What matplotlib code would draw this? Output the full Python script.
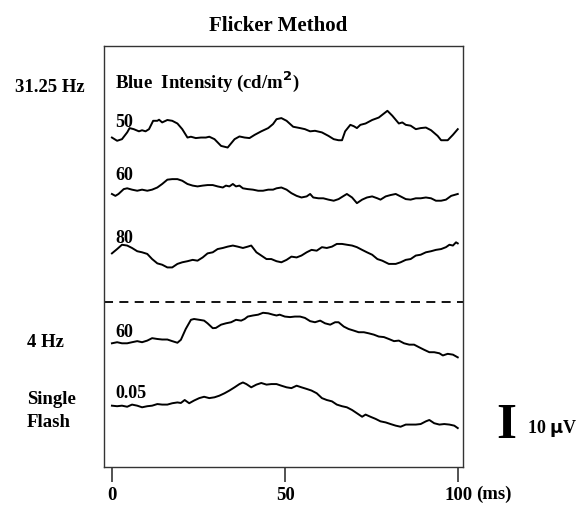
import numpy as np
import matplotlib
matplotlib.use('Agg')
import matplotlib.pyplot as plt

plt.rcParams['font.family'] = ['Liberation Serif', 'DejaVu Serif']
plt.rcParams['font.weight'] = 'bold'

# traces: time (ms) and amplitude (uV)
t_50 = [0, 1.5, 2.9, 4.4, 5.1, 6.3, 7.8, 8.7, 9.7, 10.7, 11.9, 13.1, 13.6, 14.5, 16.0, 17.4, 18.9,
        20.3, 21.8, 22.8, 24.2, 25.7, 27.1, 28.1, 29.6, 31.5, 33.4, 35.4, 36.8, 38.3, 39.7, 41.2,
        43.1, 45.1, 46.5, 47.5, 48.9, 50.4, 52.3, 54.3, 55.7, 57.2, 58.6, 60.6, 62.5, 64.0, 65.4,
        66.4, 67.3, 68.8, 69.8, 70.7, 71.7, 73.2, 75.1, 77.0, 78.5, 79.5, 80.9, 82.8, 83.8, 84.8,
        86.2, 87.7, 89.1, 90.6, 92.1, 94.0, 95.0, 96.9, 98.4, 99.8]
v_50 = [-2.5, -3.7, -3.1, -0.6, 1.0, 0.6, -0.2, 0.2, -0.2, 0.6, 3.7, 3.7, 4.1, 3.1, 4.0, 3.7, 2.7,
        0.6, -2.5, -2.2, -2.7, -2.5, -2.5, -2.2, -3.1, -5.6, -6.2, -3.1, -2.1, -2.5, -2.7, -1.5,
        -0.2, 1.0, 2.5, 4.3, 4.7, 3.7, 1.5, 1.0, 0.6, -0.2, 0.0, -0.6, -1.9, -3.1, -3.5,
        -3.5, -0.2, 2.2, 1.7, 1.0, 2.2, 2.7, 4.0, 4.9, 6.4, 7.4, 5.6, 2.7, 3.1, 2.2,
        1.9, 0.6, 1.0, 1.2, 0.2, -1.9, -3.5, -3.5, -1.5, 0.6]

t_60 = [0, 1.0, 1.9, 3.4, 4.4, 5.8, 7.3, 8.7, 10.2, 11.6, 13.1, 14.5, 16.0, 17.4, 18.9, 20.3, 21.8,
        23.3, 24.7, 26.2, 27.6, 29.1, 30.5, 32.0, 32.9, 33.9, 34.9, 35.8, 36.8, 37.8, 39.2, 40.7,
        42.2, 43.6, 45.1, 46.5, 47.5, 48.9, 50.4, 51.8, 53.3, 54.7, 56.2, 57.2, 58.1, 59.6, 61.0,
        62.5, 64.0, 65.4, 66.9, 67.8, 69.3, 70.7, 72.2, 73.6, 75.1, 76.6, 77.5, 79.0, 80.4, 81.9,
        83.3, 84.8, 86.2, 87.7, 89.1, 90.6, 92.1, 93.5, 95.0, 96.4, 97.9, 99.8]
v_60 = [-1.2, -1.9, -1.2, 0.6, 0.9, 0.4, 0, 0.4, 0, 0.4, 1.2, 2.5, 4.1, 4.3, 4.3, 3.7, 2.5,
        1.9, 1.6, 1.9, 2.1, 2.1, 1.6, 1.2, 1.9, 1.6, 2.5, 1.6, 1.9, 0.9, 0.6, 0.4,
        0, 0, 0.4, 0.4, 0.9, 1.2, 0.4, -0.9, -1.9, -2.5, -2.1, -1.2, -2.5, -2.8, -2.8,
        -3.3, -3.7, -3.1, -1.9, -1.2, -2.5, -4.6, -3.3, -2.5, -2.1, -2.8, -3.3, -2.1, -1.6, -1.2,
        -2.1, -3.1, -3.3, -2.8, -2.8, -2.5, -2.8, -3.7, -3.7, -3.3, -1.9, -1.2]

t_80 = [0, 1.5, 2.9, 4.4, 5.8, 7.3, 8.7, 10.2, 11.6, 13.1, 14.5, 16.0, 17.4, 18.9, 20.3, 21.8, 23.3,
        24.7, 26.2, 27.6, 29.1, 30.5, 32.0, 33.4, 34.9, 36.3, 37.8, 39.2, 40.2, 41.7, 43.1, 44.6,
        46.0, 47.5, 48.9, 50.4, 51.8, 53.3, 54.7, 56.2, 57.6, 59.1, 60.6, 62.0, 63.5, 64.9, 66.4,
        67.8, 69.3, 70.7, 72.2, 73.6, 75.1, 76.6, 78.0, 79.9, 81.9, 83.3, 84.8, 86.2, 87.7, 89.1,
        90.6, 92.1, 93.5, 95.0, 96.4, 97.4, 98.4, 99.3, 99.8]
v_80 = [-0.4, 1.2, 2.8, 2.5, 1.6, 0.4, 0, -0.6, -2.5, -4.1, -4.6, -5.6, -5.6, -4.3, -3.7, -3.3, -2.8,
        -3.1, -1.9, -0.4, 0, 1.2, 1.6, 2.1, 2.5, 2.1, 1.6, 2.1, 2.5, 0, -1.2, -2.5,
        -2.5, -3.3, -3.7, -2.8, -1.6, -1.9, -1.2, 0, 0.9, 0.6, 1.9, 1.6, 2.1, 3.1, 3.1,
        2.8, 2.5, 1.9, 0.9, 0, -0.9, -2.5, -3.1, -4.3, -4.3, -3.7, -2.8, -2.5, -1.2, -0.9,
        0, 0.4, 0.9, 1.2, 1.9, 2.8, 2.5, 3.7, 3.3]

t_4hz = [0, 1.5, 2.9, 4.4, 5.8, 7.3, 8.7, 10.2, 11.6, 13.1, 14.5, 16.0, 17.4, 18.9, 19.9, 21.3, 22.8,
         23.7, 25.2, 26.6, 27.6, 29.1, 30.0, 31.5, 32.9, 34.4, 35.8, 37.3, 38.3, 39.2, 40.7, 42.2,
         43.6, 45.1, 46.5, 47.5, 48.4, 49.9, 51.4, 52.8, 54.3, 55.7, 57.2, 58.6, 60.1, 61.5, 63.0,
         64.4, 65.4, 66.9, 68.3, 69.8, 71.2, 72.7, 74.1, 75.6, 77.0, 78.5, 79.9, 81.4, 82.8, 84.3,
         85.8, 87.2, 88.7, 90.1, 91.6, 93.0, 94.5, 95.5, 96.9, 98.4, 99.8]
v_4hz = [-0.4, 0, -0.4, -0.4, 0, 0.4, 0, 0.6, 1.5, 1.2, 1.0, 1.0, 0.4, -0.2, 0.9, 4.9, 8.3,
         8.6, 8.3, 8.0, 7.0, 5.2, 5.3, 6.5, 7.0, 7.4, 8.3, 8.0, 8.6, 9.5, 9.9, 10.2,
         10.9, 10.7, 10.2, 9.9, 10.2, 9.5, 9.3, 9.5, 9.5, 9.0, 7.8, 7.4, 8.0, 7.0, 6.5,
         7.4, 7.4, 5.8, 4.9, 4.3, 3.7, 3.7, 3.3, 2.8, 2.1, 1.9, 1.2, 0.4, 0.6, -0.4,
         -0.9, -0.9, -1.9, -2.8, -3.7, -3.7, -4.1, -4.9, -4.3, -4.6, -5.6]

t_sf = [0, 1.5, 2.9, 4.4, 5.8, 7.3, 8.7, 10.2, 11.6, 13.1, 14.5, 16.0, 17.4, 18.9, 19.9, 21.0, 22.3,
        23.7, 25.2, 26.6, 28.1, 29.6, 31.0, 32.5, 33.9, 35.4, 36.8, 37.8, 38.8, 40.2, 41.7, 43.1,
        44.6, 46.0, 47.5, 48.9, 50.4, 51.8, 53.3, 54.7, 56.2, 57.6, 59.1, 60.6, 62.0, 63.5, 64.9,
        66.4, 67.8, 69.3, 70.7, 72.2, 73.2, 74.6, 76.1, 77.5, 79.0, 80.4, 81.9, 83.3, 84.8, 86.2,
        87.7, 89.1, 90.6, 91.6, 93.0, 94.5, 95.9, 97.4, 98.8, 99.8]
v_sf = [0, -0.2, 0, -0.4, 0.4, 0, -0.6, -0.2, 0, 0.6, 0.4, 0.4, 0.9, 1.2, 1.0, 2.1, 0.9,
        1.9, 2.8, 3.3, 2.8, 3.1, 3.7, 4.6, 5.6, 6.8, 8.0, 8.6, 8.0, 6.8, 7.8, 8.4,
        7.8, 8.0, 8.0, 7.4, 6.8, 6.5, 7.4, 6.8, 6.2, 5.6, 4.6, 2.8, 2.1, 1.6, 0.4,
        -0.2, -0.6, -1.6, -2.8, -4.1, -3.3, -4.1, -4.9, -5.8, -6.2, -6.8, -7.4, -7.8, -7.0, -7.0,
        -7.0, -6.8, -5.8, -5.3, -6.5, -7.0, -6.8, -7.0, -7.4, -8.3]

traces = [(t_50, v_50), (t_60, v_60), (t_80, v_80), (t_4hz, v_4hz), (t_sf, v_sf)]
trace_labels = ['50', '60', '80', '60', '0.05']
offsets = [124.4, 102.2, 79.4, 46.1, 22.6]     # uV, vertical stacking
label_dy = [1.8, 4.4, 3.8, 2.3, 3.2]
divider = 61.0

W, H = 579, 506
fig = plt.figure(figsize=(W / 100, H / 100), dpi=100)
ax = fig.add_axes([104.3 / W, 1 - 467.7 / H, 359 / W, 420.7 / H])

for (t, v), off in zip(traces, offsets):
    ax.plot(t, np.array(v) + off, color='black', lw=1.4)

for lab, off, dy in zip(trace_labels, offsets, label_dy):
    ax.text(0.9, off + dy, lab, fontsize=13, fontweight='bold', va='baseline', ha='left')

ax.axhline(divider, color='black', lw=1.3, ls=(0, (5, 3.5)))
ax.text(0.9, 140.5, 'Blue  Intensity (cd/m$^\\mathbf{2}$)', fontsize=13.5, fontweight='bold',
        va='baseline')

ax.set_xlim(-2.2, 101.4)
ax.set_ylim(0, 155.8)
ax.set_yticks([])
ax.set_xticks([0, 50, 100])
ax.set_xticklabels(['0', '50', '100'], fontsize=13.5, fontweight='bold')
ax.tick_params(axis='x', direction='out', length=11, width=1.3, pad=3, colors='#444444',
               labelcolor='black')
for s in ax.spines.values():
    s.set_linewidth(1.0)
    s.set_color('#333333')

def ftext(x, y, s, **kw):
    fig.text(x / W, 1 - y / H, s, fontweight='bold', **kw)

ftext(278, 26, 'Flicker Method', fontsize=15, ha='center', va='center')
ftext(15, 88, '31.25 Hz', fontsize=13.5, va='center')
ftext(27, 343, '4 Hz', fontsize=13.5, va='center')
ftext(27, 400, 'Single', fontsize=13.5, va='center')
ftext(27, 423, 'Flash', fontsize=13.5, va='center')
ftext(476, 494, '(ms)', fontsize=13.5, va='center')
ftext(496, 438, 'I', fontsize=37, va='baseline')
ftext(527, 433, '10 $\\mathbf{\\mu}$V', fontsize=13, va='baseline')

fig.savefig('out.png', dpi=100)
